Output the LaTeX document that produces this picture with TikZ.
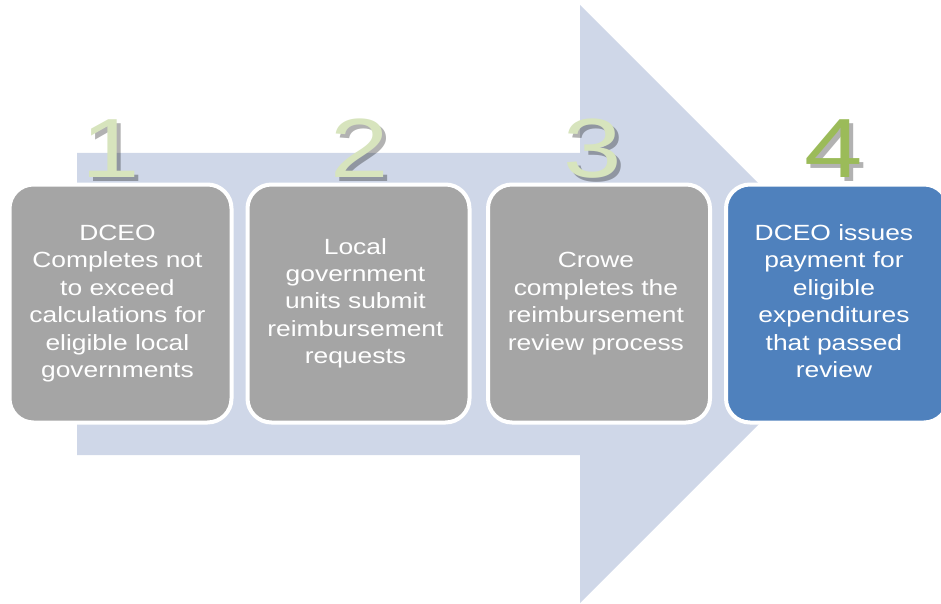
\documentclass[tikz,border=0pt]{standalone}
\usepackage{fontspec}
\setmainfont{Liberation Sans}
\usetikzlibrary{positioning}

\definecolor{arrowfill}{HTML}{CFD7E8}
\definecolor{stepgray}{HTML}{A5A5A5}
\definecolor{stepblue}{HTML}{4F81BD}
\definecolor{numlight}{HTML}{D7E4BD}
\definecolor{numdark}{HTML}{9BBB59}

% the text in the boxes is set a little wide
\newcommand{\widetext}[1]{\scalebox{1.2}[1]{\begin{tabular}{@{}c@{}}#1\end{tabular}}}

\begin{document}
\begin{tikzpicture}[x=1pt, y=-1pt,
    phase/.style={rectangle, rounded corners=24pt, draw=white, line width=4pt, fill=stepgray,
        minimum width=222pt, minimum height=238pt, text=white, align=center,
        font=\fontsize{22}{27.4}\selectfont},
    digit/.style={anchor=base, inner sep=0pt, font=\fontsize{84}{84}\selectfont},
    digitshadow/.style={digit, text=black, opacity=0.3}
]
    \useasboundingbox (0,0) rectangle (941,604);
    \clip (0,0) rectangle (941,604);

    % Background arrow
    \fill[arrowfill] (77,153) -- (580,153) -- (580,5) -- (879,304)
        -- (580,603) -- (580,455) -- (77,455) -- cycle;

    % Step numbers (with shadow)
    \node[digitshadow] (oneshadow) at (115,181) {\scalebox{1.25}[1]{1}};
    \node[digitshadow] (twoshadow) at (364,181) {\scalebox{1.25}[1]{2}};
    \node[digitshadow] (threeshadow) at (597,181) {\scalebox{1.25}[1]{3}};
    \node[digitshadow] (fourshadow) at (838,181) {\scalebox{1.25}[1]{4}};
    \node[digit, text=numlight] (one) at (111,177) {\scalebox{1.25}[1]{1}};
    \node[digit, text=numlight] (two) at (360,177) {\scalebox{1.25}[1]{2}};
    \node[digit, text=numlight] (three) at (593,177) {\scalebox{1.25}[1]{3}};
    \node[digit, text=numdark] (four) at (834,177) {\scalebox{1.25}[1]{4}};

    % Step boxes
    \node[phase] (calc) at (120.5,303.5) {\widetext{
        DCEO\\
        Completes not\\
        to exceed\\
        calculations for\\
        eligible local\\
        governments}
    };

    \node[phase] (submit) at (358.5,303.5) {\widetext{
        Local\\
        government\\
        units submit\\
        reimbursement\\
        requests}
    };

    \node[phase] (review) at (599,303.5) {\widetext{
        Crowe\\
        completes the\\
        reimbursement\\
        review process}
    };

    \node[phase, fill=stepblue] (payment) at (837,303.5) {\widetext{
        DCEO issues\\
        payment for\\
        eligible\\
        expenditures\\
        that passed\\
        review}
    };
\end{tikzpicture}
\end{document}
